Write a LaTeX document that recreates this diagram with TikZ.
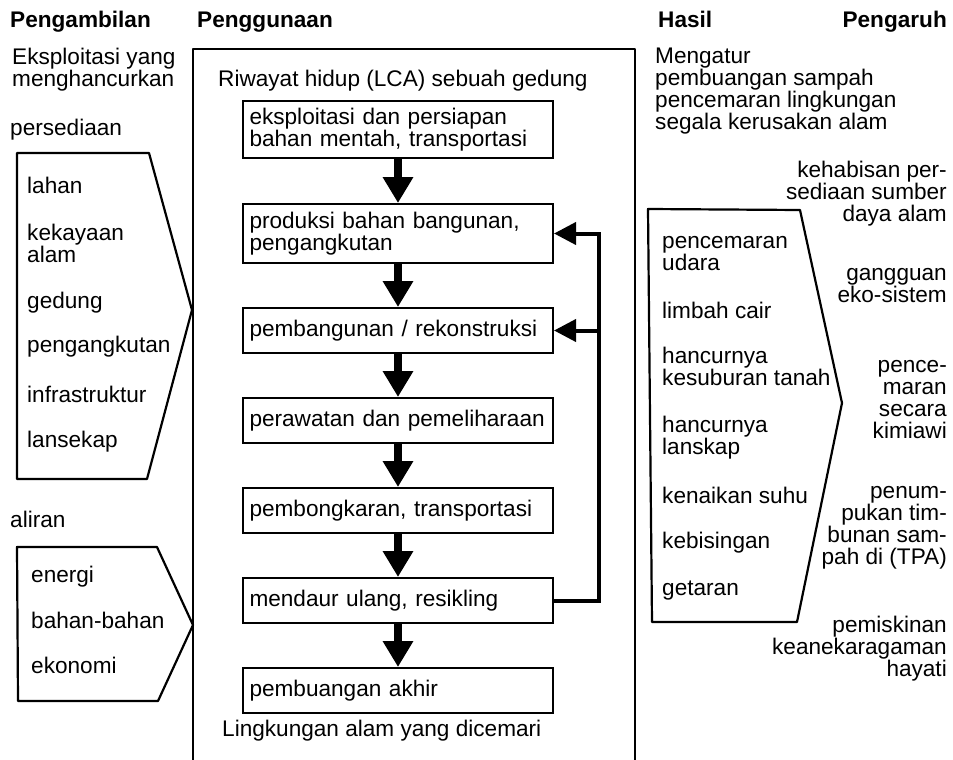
\documentclass[tikz,border=0pt]{standalone}
\usepackage{fontspec}
\setmainfont{Liberation Sans}
\usetikzlibrary{arrows.meta}

\newcommand\lcasize{\fontsize{22.6}{22}\selectfont}
\tikzset{
  txt/.style={anchor=base west,inner sep=0pt,align=left},
  rtxt/.style={anchor=base east,inner sep=0pt,align=right},
  head/.style={anchor=base west,inner sep=0pt,font=\lcasize\bfseries},
  stage/.style={draw,line width=2pt,minimum width=310pt,text width=297pt,inner xsep=6.5pt,align=left},
  down/.style={line width=8pt,-{Triangle[width=29pt,length=26pt]}},
  back/.style={line width=4pt,-{Triangle[width=22pt,length=22pt]}},
  frame/.style={line width=2.2pt,line join=round}
}

\begin{document}
\begin{tikzpicture}[x=1pt,y=-1pt,font=\lcasize]
  \useasboundingbox (0,0) rectangle (953,760);
  \node[head] (hTake) at (10,28) {Pengambilan};
  \node[head] (hUse) at (197,28) {Penggunaan};
  \node[head] (hOut) at (658,28) {Hasil};
  \node[head,anchor=base east] (hEff) at (947,28) {Pengaruh};

  \node[txt] (exploit) at (12,87) {Eksploitasi yang\\menghancurkan};
  \node[txt] (stock) at (10,135) {persediaan};
  \draw[frame] (17,153) -- (149,153) -- (192,310) -- (147,479) -- (17,479) -- cycle;
  \foreach \t/\y [count=\i] in {lahan/193,{kekayaan\\alam}/262,gedung/308,pengangkutan/352,infrastruktur/402,lansekap/447}
    \node[txt] (stock\i) at (27,\y) {\t};
  \node[txt] (flow) at (10,527) {aliran};
  \draw[frame] (17,547) -- (157,547) -- (193,625) -- (158,701) -- (18,701) -- cycle;
  \foreach \t/\y [count=\i] in {energi/582,bahan-bahan/628,ekonomi/673}
    \node[txt] (flow\i) at (31,\y) {\t};

  \draw[frame] (193,49) -- (635,49) -- (635,770) -- (193,770) -- cycle;
  \node[txt] (lca) at (218,87) {Riwayat hidup (LCA) sebuah gedung};
  \node[stage,minimum height=57pt] (b1) at (398,129.5) {eksploitasi dan persiapan\\bahan mentah, transportasi};
  \node[stage,minimum height=59pt] (b2) at (398,233.5) {produksi bahan bangunan,\\pengangkutan};
  \node[stage,minimum height=45pt] (b3) at (398,330.5) {pembangunan / rekonstruksi};
  \node[stage,minimum height=45pt] (b4) at (398,420.5) {perawatan dan pemeliharaan};
  \node[stage,minimum height=45pt] (b5) at (398,510.5) {pembongkaran, transportasi};
  \node[stage,minimum height=45pt] (b6) at (398,600.5) {mendaur ulang, resikling};
  \node[stage,minimum height=45pt] (b7) at (398,690.5) {pembuangan akhir};
  \node[txt] (polluted) at (222,736) {Lingkungan alam yang dicemari};
  \foreach \a/\b in {b1/b2,b2/b3,b3/b4,b4/b5,b5/b6,b6/b7}
    \draw[down] (\a.south) -- (\b.north);
  \coordinate (loop) at (599,600.5);
  \draw[back] (b6.east) -- (loop) |- (b2.east);
  \draw[back] (loop) |- (b3.east);

  \node[txt] (manage) at (655,129) {Mengatur\\pembuangan sampah\\pencemaran lingkungan\\segala kerusakan alam};
  \draw[frame] (648,209) -- (800,210) -- (842,403) -- (797,622) -- (652,622) -- cycle;
  \foreach \t/\y [count=\i] in {{pencemaran\\udara}/270,limbah cair/318,{hancurnya\\kesuburan tanah}/385,{hancurnya\\lanskap}/454,kenaikan suhu/503,kebisingan/548,getaran/595}
    \node[txt] (waste\i) at (662,\y) {\t};
  \foreach \t/\y [count=\i] in {{kehabisan per-\\sediaan sumber\\daya alam}/221,{gangguan\\eko-sistem}/302,{pence-\\maran\\secara\\kimiawi}/438,{penum-\\pukan tim-\\bunan sam-\\pah di (TPA)}/564,{pemiskinan\\keanekaragaman\\hayati}/676}
    \node[rtxt] (eff\i) at (947,\y) {\t};
\end{tikzpicture}
\end{document}
